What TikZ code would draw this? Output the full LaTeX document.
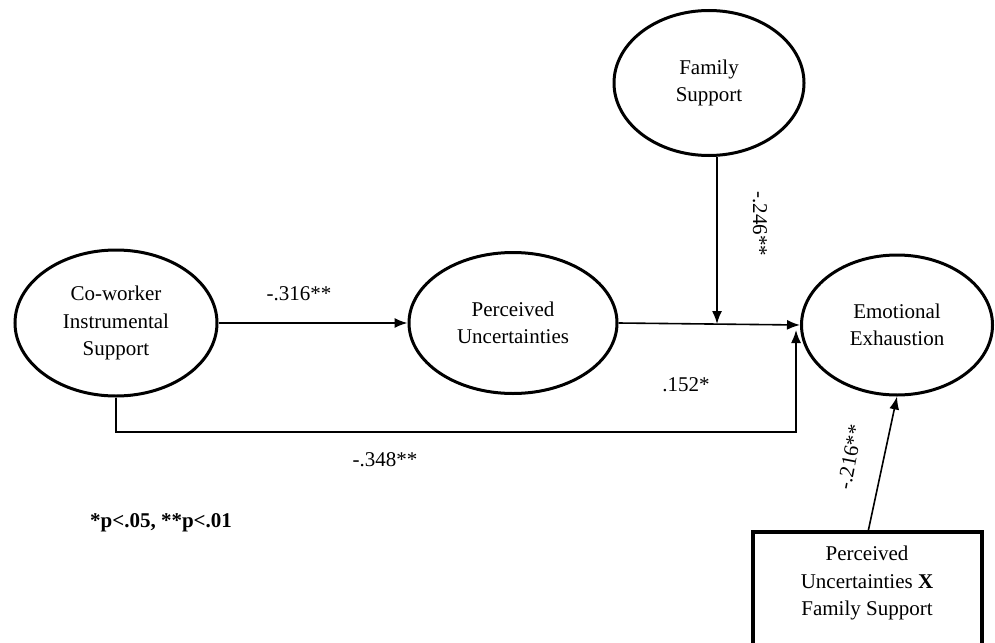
\documentclass[tikz,border=0pt]{standalone}
\usepackage{fontspec}
\setmainfont{Liberation Serif}
\usetikzlibrary{shapes.geometric,arrows.meta,calc}
\begin{document}
\begin{tikzpicture}[x=1pt,y=-1pt,
  every node/.style={font=\fontsize{21}{27.5}\selectfont},
  latent/.style={draw, ellipse, line width=3pt, align=center, inner sep=0pt},
  obsbox/.style={draw, rectangle, line width=3.2pt, align=center},
  conn/.style={line width=1.6pt},
  arr/.style={conn, -{Latex[length=13pt,width=10pt]}},
  coef/.style={inner sep=1pt}]
\useasboundingbox (0,0) rectangle (995,642);
\fill[white] (0,0) rectangle (995,642);

\node[latent, minimum width=202pt, minimum height=146pt] (cw) at (116,323) {Co-worker\\Instrumental\\Support};
\node[latent, minimum width=208pt, minimum height=141pt] (pu) at (513,323) {Perceived\\Uncertainties};
\node[latent, minimum width=191pt, minimum height=140pt] (ee) at (897,325) {Emotional\\Exhaustion};
\node[latent, minimum width=190pt, minimum height=145pt] (fs) at (709,83) {Family\\Support};
\draw[obsbox] (753,532) rectangle (982,646);
\node[align=center] (box) at (867,583) {Perceived\\Uncertainties \textbf{X}\\Family Support};

\coordinate (mod) at (717,324);
\coordinate (eein) at (796,330);
\coordinate (low) at (0,432);
\coordinate (boxtop) at (868,532);

\draw[arr] (cw.east) -- (pu.west);
\draw[arr] (pu.east) -- (ee.west);
\draw[arr] (fs.south -| mod) -- (mod);
\draw[arr] (cw.south) -- (cw.south |- low) -| (eein);
\draw[arr] (boxtop) -- (ee.south);

\node[coef] (l316) at (299,294) {-.316**};
\node[coef, rotate=-90] (l246) at (760,224) {-.246**};
\node[coef] (l152) at (686,385) {.152*};
\node[coef] (l348) at (385,460) {-.348**};
\node[coef, rotate=79] (l216) at (850,457) {-.216**};
\node[coef, font=\fontsize{21}{27.5}\selectfont\bfseries] (note) at (161,523) {*p<.05, **p<.01};
\end{tikzpicture}
\end{document}
